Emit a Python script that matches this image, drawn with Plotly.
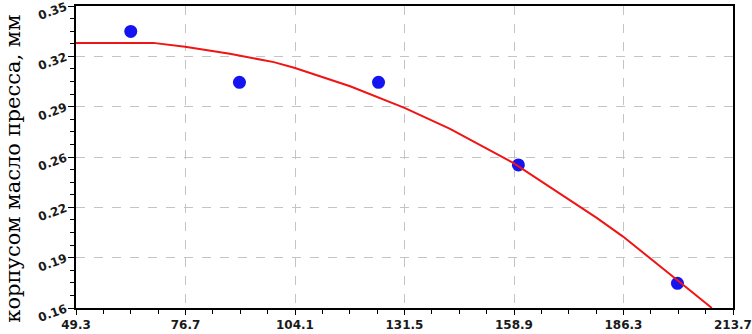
import plotly.graph_objects as go

# Measured points
x_points = [63.0, 90.2, 125.0, 160.0, 199.8]
y_points = [0.334, 0.302, 0.302, 0.250, 0.1755]

# Fitted curve
curve_x = [49.3, 68.6, 76.6, 87.8, 98.8, 103.9, 117.9, 131.5, 142.9, 158.7, 179.6, 186.1, 199.8, 208.4]
curve_y = [0.3268, 0.3268, 0.3243, 0.3199, 0.3147, 0.3111, 0.2995, 0.2859, 0.2727, 0.2513, 0.2167, 0.2051, 0.1775, 0.1600]

x_tick_labels = ["49.3", "76.7", "104.1", "131.5", "158.9", "186.3", "213.7"]
y_tick_labels = ["0.16", "0.19", "0.22", "0.26", "0.29", "0.32", "0.35"]
x_range = [49.3, 213.7]
y_range = [0.16, 0.35]
y_title = "корпусом масло пресса, мм"

n = len(x_tick_labels) - 1
x_tickvals = [round(x_range[0] + i * (x_range[1] - x_range[0]) / n, 9) for i in range(n + 1)]
y_tickvals = [round(y_range[0] + i * (y_range[1] - y_range[0]) / n, 9) for i in range(n + 1)]
x_tickvals[-1] = x_range[1]
y_tickvals[-1] = y_range[1]

fig = go.Figure()
fig.add_trace(go.Scatter(
    x=x_points, y=y_points, mode="markers",
    marker=dict(color="rgb(20,20,240)", size=13, line=dict(width=0)),
    showlegend=False))
fig.add_trace(go.Scatter(
    x=curve_x, y=curve_y, mode="lines",
    line=dict(color="rgb(240,20,20)", width=2),
    showlegend=False))

tick_font = dict(family="DejaVu Sans", size=12, color="#1a1a1a", weight="bold")
fig.update_layout(
    width=752, height=334,
    margin=dict(l=76, r=19, t=6, b=26, autoexpand=False),
    paper_bgcolor="white", plot_bgcolor="white",
    xaxis=dict(
        range=x_range, tickmode="array", tickvals=x_tickvals, ticktext=x_tick_labels,
        showgrid=True, gridcolor="#c4c4c4", griddash="dash", gridwidth=1,
        showline=True, linecolor="black", linewidth=1.5, mirror=True,
        ticks="outside", ticklen=5, tickcolor="black", tickwidth=1,
        minor=dict(tick0=x_range[0], dtick=(x_range[1] - x_range[0]) / (n * 4),
                   ticks="outside", ticklen=4, tickcolor="black", showgrid=False),
        zeroline=False, tickfont=tick_font, automargin=False, ticklabeloverflow="allow"),
    yaxis=dict(
        range=y_range, tickmode="array", tickvals=y_tickvals, ticktext=y_tick_labels,
        showgrid=True, gridcolor="#c4c4c4", griddash="dash", gridwidth=1,
        showline=True, linecolor="black", linewidth=1.5, mirror=True,
        ticks="outside", ticklen=6, tickcolor="black", tickwidth=1,
        minor=dict(tick0=y_range[0], dtick=(y_range[1] - y_range[0]) / (n * 4),
                   ticks="outside", ticklen=4, tickcolor="black", showgrid=False),
        zeroline=False, tickfont=tick_font, tickangle=-20, automargin=False,
        ticklabeloverflow="allow"),
    annotations=[dict(
        text=y_title, textangle=-90, xref="paper", yref="paper",
        x=-0.0965, y=0.46, xanchor="center", yanchor="middle", showarrow=False,
        font=dict(family="DejaVu Serif", size=21, color="black"))],
)

fig.write_html("out.html", config={"displayModeBar": False},
               post_script="document.body.style.margin='0';document.body.style.overflow='hidden';")
